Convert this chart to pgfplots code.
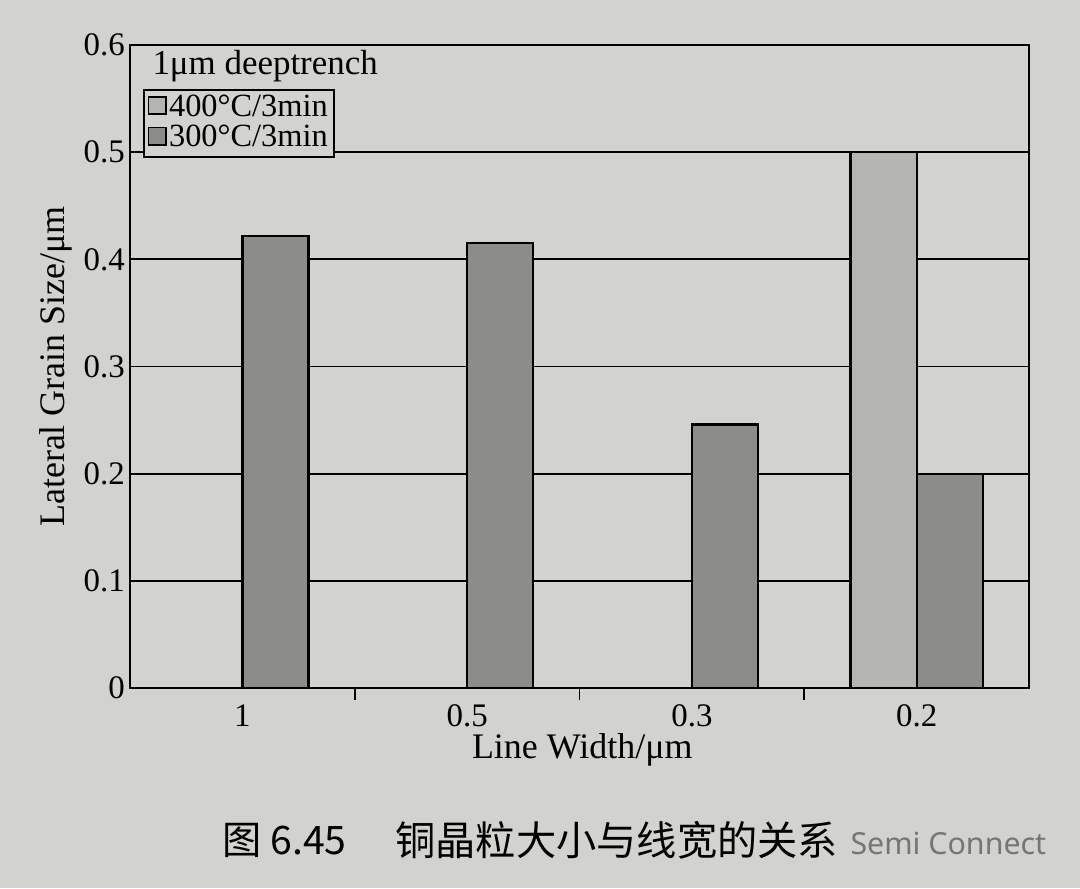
\documentclass[border=0pt]{standalone}
\usepackage{fontspec}
\setmainfont{Liberation Serif}
\newfontfamily\cjk{Noto Sans CJK SC}
\newfontfamily\wmfont{Noto Sans}
\usepackage{pgfplots}
\pgfplotsset{compat=1.18}
\pgfdeclarelayer{bg}
\pgfsetlayers{bg,main}
\definecolor{paper}{RGB}{210,210,206}
\definecolor{barlight}{RGB}{180,180,177}
\definecolor{bardark}{RGB}{140,140,137}

\begin{document}
\begin{tikzpicture}
    \begin{axis}[
            name=ax,
            width=355.3pt, height=254.1pt, scale only axis,
            %
            xlabel={Line Width/μm},
            ylabel={Lateral Grain Size/μm},
            xlabel style={at={(axis description cs:0.503,-0.096)}, anchor=center},
            ylabel style={at={(axis description cs:-0.083,0.5)}, anchor=center},
            label style={font=\fontsize{14.2}{16}\selectfont},
            tick label style={font=\fontsize{13}{15}\selectfont},
            /pgf/number format/assume math mode=true,
            %
            xmin=-0.5, xmax=3.5,
            ymin=0, ymax=0.6,
            %
            xtick={0.5,1.5,2.5}, xticklabels={},
            extra x ticks={0,1,2,3},
            extra x tick labels={1,0.5,0.3,0.2},
            extra x tick style={major tick length=0pt},
            xticklabel shift=3pt,
            ytick={0,0.1,0.2,0.3,0.4,0.5,0.6},
            yticklabel shift=-1.5pt,
            xtick pos=bottom, ytick pos=left,
            tick align=inside,
            major tick length=4.7pt,
            tick style={black, line width=0.7pt},
            %
            ymajorgrids,
            major grid style={black, line width=0.75pt},
            axis line style={black, line width=1pt},
            axis background/.style={fill=paper},
            %
            ybar, bar width=0.294,
            %
            legend style={
                at={(0.0145,0.9316)}, anchor=north west,
                draw=black, line width=0.8pt, fill=paper,
                inner sep=1.4pt, row sep=0.6pt,
                font=\fontsize{12.8}{14}\selectfont,
                nodes={inner xsep=1pt, inner ysep=0.3pt, text height=8.6pt, text depth=2.3pt},
            },
            legend cell align=left,
            legend image code/.code={
                \draw[#1, line width=0.6pt] (0pt,-2.4pt) rectangle (6.9pt,4.5pt);
            },
        ]

        \addplot[draw=black, line width=0.9pt, fill=barlight, bar shift=-0.147] coordinates {
            (3, 0.500)
        };

        \addplot[draw=black, line width=0.9pt, fill=bardark, bar shift=0.147] coordinates {
            (0, 0.422)
            (1, 0.415)
            (2, 0.246)
            (3, 0.200)
        };

        \legend{400°C/3min, 300°C/3min}
    \end{axis}

    % page laid out in reference pixels, axis box corner at (130,200)
    \begin{scope}[shift={(ax.south west)}, x=0.3952pt, y=0.3952pt, shift={(-130,-200)}]
        \begin{pgfonlayer}{bg}
            \fill[paper] (0,0) rectangle (1080,888);
        \end{pgfonlayer}

        \node[anchor=base west, inner sep=0, font=\fontsize{13.8}{16}\selectfont] at (152,813) {1μm deeptrench};

        \node[anchor=west, inner sep=0, font=\cjk\fontsize{15.5}{18}\selectfont] at (222,48) {图 6.45};
        \node[anchor=west, inner sep=0, font=\cjk\fontsize{15.9}{18}\selectfont] at (395,48) {铜晶粒大小与线宽的关系};
        \node[anchor=west, inner sep=0, text={rgb,255:red,118;green,118;blue,118}, font=\wmfont\fontsize{12}{14}\selectfont] at (850,45) {Semi Connect};

        \pgfresetboundingbox
        \useasboundingbox (0,0) rectangle (1080,888);
    \end{scope}
\end{tikzpicture}
\end{document}
